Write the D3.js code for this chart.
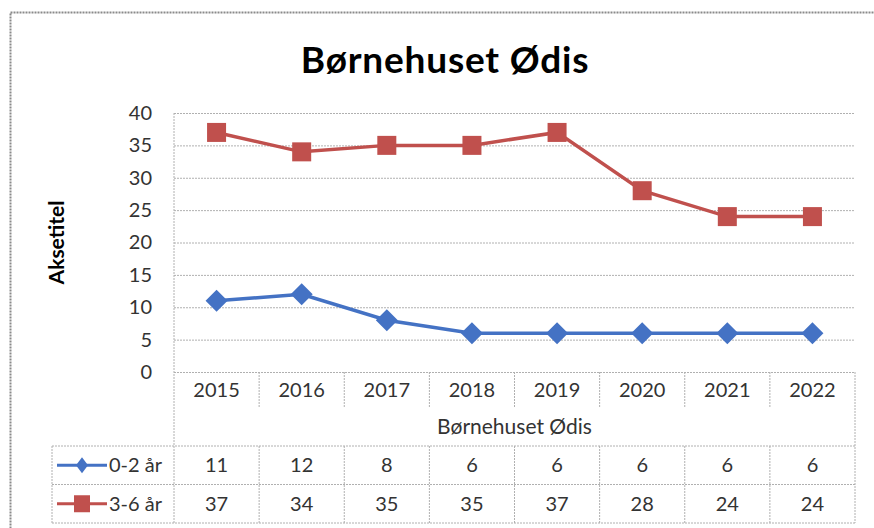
<!DOCTYPE html>
<html>
<head>
<meta charset="utf-8">
<script src="https://cdn.jsdelivr.net/npm/d3@7"></script>
<style>
  body { margin: 0; background: #fff; }
  svg { display: block; font-family: Lato, "Open Sans", sans-serif; }
  .grid line { stroke: #b0b0b0; stroke-dasharray: 2,1; }
  .grid .domain { display: none; }
  .tbl { stroke: #b0b0b0; stroke-dasharray: 2,1; fill: none; }
</style>
</head>
<body>
<div id="chart"></div>
<script>
const years = ["2015", "2016", "2017", "2018", "2019", "2020", "2021", "2022"];
const young = [11, 12, 8, 6, 6, 6, 6, 6];
const older = [37, 34, 35, 35, 37, 28, 24, 24];
const yTicks = [0, 5, 10, 15, 20, 25, 30, 35, 40];

const series = [
  { name: "0-2 år", values: young, color: "#4472C4", shape: "diamond" },
  { name: "3-6 år", values: older, color: "#C0504D", shape: "square" }
];

const width = 874, height = 528;
const plot = { left: 174, right: 855, top: 113, bottom: 372 };

const svg = d3.select("#chart")
  .append("svg")
    .attr("width", width)
    .attr("height", height)
    .attr("viewBox", [0, 0, width, height]);

// chart frame
svg.append("rect")
  .attr("x", 10.5).attr("y", 12.5)
  .attr("width", 900).attr("height", 600)
  .attr("fill", "none")
  .attr("stroke", "#8a8a8a")
  .attr("stroke-width", 2)
  .attr("stroke-dasharray", "2,1");

const xScale = d3.scaleBand()
  .domain(years)
  .range([plot.left, plot.right]);

const yScale = d3.scaleLinear()
  .domain([0, 40])
  .range([plot.bottom, plot.top]);

// title
svg.append("text")
  .attr("x", 445)
  .attr("y", 73)
  .attr("text-anchor", "middle")
  .style("font-size", "37px")
  .style("font-weight", "bold")
  .style("letter-spacing", "0.8px")
  .text("Børnehuset Ødis");

// horizontal gridlines
const gridAxis = d3.axisLeft(yScale)
  .tickValues(yTicks)
  .tickSize(-(plot.right - plot.left))
  .tickFormat("");
svg.append("g")
    .attr("class", "grid")
    .attr("transform", `translate(${plot.left}, 0)`)
    .call(gridAxis);

// y tick labels
const leftAxis = d3.axisLeft(yScale)
  .tickValues(yTicks)
  .tickSize(0)
  .tickPadding(22);
const yAxisG = svg.append("g")
    .attr("transform", `translate(${plot.left}, 0)`)
    .call(leftAxis);
yAxisG.select(".domain").remove();
yAxisG.selectAll("text")
  .attr("fill", "#333")
  .style("font-size", "20px")
  .style("font-family", "Lato, sans-serif");

// y axis title
svg.append("text")
  .attr("transform", `translate(64, ${(plot.top + plot.bottom) / 2}) rotate(-90)`)
  .attr("text-anchor", "middle")
  .style("font-size", "21px")
  .style("font-weight", "bold")
  .text("Aksetitel");

// data table grid
const tableTop = 446, rowH = 38.5, yearRowBottom = 408, legendLeft = 52;
const tbl = svg.append("g").attr("class", "tbl");

// plot area left border, running down through table
tbl.append("line")
  .attr("x1", plot.left).attr("x2", plot.left)
  .attr("y1", plot.top).attr("y2", tableTop + 2 * rowH);
tbl.append("line")
  .attr("x1", plot.right).attr("x2", plot.right)
  .attr("y1", plot.bottom).attr("y2", tableTop + 2 * rowH);

// column separators in year row
tbl.selectAll(".sepYear")
  .data(years.slice(1))
  .join("line")
    .attr("x1", d => xScale(d)).attr("x2", d => xScale(d))
    .attr("y1", plot.bottom).attr("y2", yearRowBottom);

// column separators in value rows
tbl.selectAll(".sepVal")
  .data(years.slice(1))
  .join("line")
    .attr("x1", d => xScale(d)).attr("x2", d => xScale(d))
    .attr("y1", tableTop).attr("y2", tableTop + 2 * rowH);

// horizontal table lines
tbl.selectAll(".rowLine")
  .data([0, 1, 2])
  .join("line")
    .attr("x1", legendLeft).attr("x2", plot.right)
    .attr("y1", d => tableTop + d * rowH).attr("y2", d => tableTop + d * rowH);
tbl.append("line")
  .attr("x1", legendLeft).attr("x2", legendLeft)
  .attr("y1", tableTop).attr("y2", tableTop + 2 * rowH);

// year labels
svg.append("g")
  .selectAll("text")
  .data(years)
  .join("text")
    .attr("x", d => xScale(d) + xScale.bandwidth() / 2)
    .attr("y", (plot.bottom + yearRowBottom) / 2 + 7)
    .attr("text-anchor", "middle")
    .attr("fill", "#333")
    .style("font-size", "20px")
    .text(d => d);

// x axis title
svg.append("text")
  .attr("x", (plot.left + plot.right) / 2)
  .attr("y", 434)
  .attr("text-anchor", "middle")
  .attr("fill", "#333")
  .style("font-size", "21px")
  .text("Børnehuset Ødis");

// markers
const drawMarker = (sel, shape, color, w, h) => {
  if (shape === "diamond") {
    sel.append("path")
      .attr("d", `M0,${-h}L${w},0L0,${h}L${-w},0Z`)
      .attr("fill", color);
  } else {
    sel.append("rect")
      .attr("x", -w).attr("y", -h)
      .attr("width", w * 2).attr("height", h * 2)
      .attr("fill", color);
  }
};

const line = d3.line()
  .x((d, i) => xScale(years[i]) + xScale.bandwidth() / 2)
  .y(d => yScale(d));

series.forEach(s => {
  svg.append("path")
    .attr("d", line(s.values))
    .attr("fill", "none")
    .attr("stroke", s.color)
    .attr("stroke-width", 3.5);

  const size = s.shape === "diamond" ? 11 : 9.5;
  svg.append("g")
    .selectAll("g")
    .data(s.values)
    .join("g")
      .attr("transform", (d, i) => `translate(${xScale(years[i]) + xScale.bandwidth() / 2}, ${yScale(d)})`)
      .each(function() { drawMarker(d3.select(this), s.shape, s.color, size, size); });
});

// table rows: legend keys and values
series.forEach((s, r) => {
  const cy = tableTop + r * rowH + rowH / 2;
  svg.append("line")
    .attr("x1", 57).attr("x2", 107)
    .attr("y1", cy).attr("y2", cy)
    .attr("stroke", s.color)
    .attr("stroke-width", 3);
  const keyG = svg.append("g").attr("transform", `translate(82, ${cy})`);
  if (s.shape === "diamond") drawMarker(keyG, s.shape, s.color, 6, 8);
  else drawMarker(keyG, s.shape, s.color, 8, 8.5);
  svg.append("text")
    .attr("x", 109)
    .attr("y", cy + 7)
    .attr("fill", "#333")
    .style("font-size", "20px")
    .text(s.name);

  svg.append("g")
    .selectAll("text")
    .data(s.values)
    .join("text")
      .attr("x", (d, i) => xScale(years[i]) + xScale.bandwidth() / 2)
      .attr("y", cy + 7)
      .attr("text-anchor", "middle")
      .attr("fill", "#333")
      .style("font-size", "20px")
      .text(d => d);
});
</script>
</body>
</html>
